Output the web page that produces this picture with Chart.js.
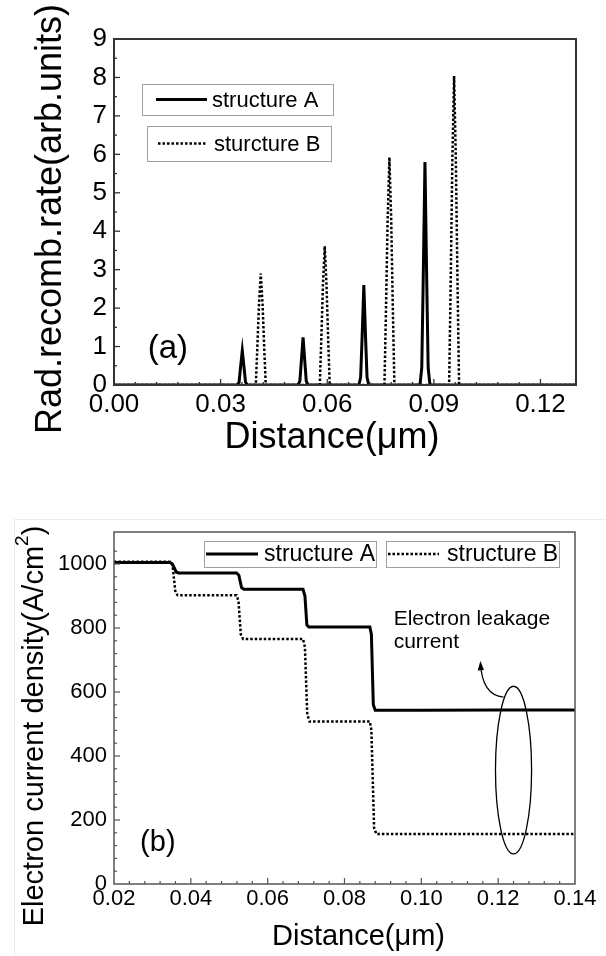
<!DOCTYPE html>
<html>
<head>
<meta charset="utf-8">
<script src="https://cdn.jsdelivr.net/npm/chart.js@4.4.1/dist/chart.umd.min.js"></script>
<style>
  body { margin: 0; background: #fff; width: 606px; height: 956px; position: relative; overflow: hidden; }
  #rateChart { position: absolute; left: 0; top: 0; }
  #currentChart { position: absolute; left: 0; top: 505px; }
  .panel { position: absolute; left: 14px; top: 519px; right: 0; bottom: 0;
           border-top: 1px solid #ececec; border-left: 1px solid #ececec; }
</style>
</head>
<body>
<div class="panel"></div>
<canvas id="rateChart" width="606" height="475"></canvas>
<canvas id="currentChart" width="606" height="451"></canvas>
<script>
const FONT = "'Liberation Sans', Arial, Helvetica, sans-serif";

// (a) radiative recombination rate
const rateDistA = [0, 0.0347, 0.0352, 0.0356, 0.0361, 0.0366, 0.0370, 0.0375,
  0.0518, 0.0523, 0.0527, 0.0532, 0.0537, 0.0541, 0.0546,
  0.0689, 0.0694, 0.0698, 0.0703, 0.0708, 0.0712, 0.0717,
  0.0861, 0.0866, 0.0870, 0.0875, 0.0880, 0.0884, 0.0889, 0.13];
const rateA = [0, 0, 0.08, 0.45, 0.89, 0.45, 0.08, 0,
  0, 0.10, 0.60, 1.24, 0.60, 0.10, 0,
  0, 0.20, 1.20, 2.60, 1.20, 0.20, 0,
  0, 0.45, 2.70, 5.80, 2.70, 0.45, 0, 0];
const rateDistB = [0, 0.0399, 0.0403, 0.0408, 0.0413, 0.0418, 0.0423, 0.0427,
  0.0579, 0.0583, 0.0588, 0.0593, 0.0598, 0.0603, 0.0607,
  0.0761, 0.0765, 0.0770, 0.0775, 0.0780, 0.0785, 0.0789,
  0.0943, 0.0947, 0.0952, 0.0957, 0.0962, 0.0967, 0.0971, 0.13];
const rateB = [0, 0, 0.9, 2.1, 2.90, 2.1, 0.9, 0,
  0, 1.1, 2.6, 3.61, 2.6, 1.1, 0,
  0, 1.8, 4.3, 5.92, 4.3, 1.8, 0,
  0, 2.4, 5.8, 8.04, 5.8, 2.4, 0, 0];
const rateXTicks = [0, 0.03, 0.06, 0.09, 0.12];
const rateYTicks = [0, 1, 2, 3, 4, 5, 6, 7, 8, 9];

// (b) electron current density
const currentDistA = [0.02, 0.0346, 0.0352, 0.0362, 0.0368, 0.0519, 0.0525, 0.0532, 0.0538,
  0.0692, 0.0697, 0.0702, 0.0707, 0.0866, 0.0870, 0.0875, 0.0880, 0.10, 0.12, 0.14];
const currentA = [1005, 1005, 1000, 975, 972, 972, 965, 926, 921,
  921, 900, 810, 803, 803, 780, 560, 543, 543, 544, 544];
const currentDistB = [0.02, 0.0349, 0.0353, 0.0360, 0.0366, 0.0519, 0.0524, 0.0530, 0.0536,
  0.0692, 0.0697, 0.0703, 0.0709, 0.0866, 0.0870, 0.0877, 0.0883, 0.14];
const currentB = [1007, 1007, 990, 910, 902, 902, 885, 780, 766,
  766, 740, 530, 508, 508, 480, 175, 156, 156];
const currentXTicks = [0.02, 0.04, 0.06, 0.08, 0.10, 0.12, 0.14];
const currentYTicks = [0, 200, 400, 600, 800, 1000];

const pts = (xs, ys) => xs.map((x, i) => ({ x: x, y: ys[i] }));
const isMajor = (list, v) => list.some(t => Math.abs(t - v) < 1e-9);

// box around the plot + inward ticks (long on labelled ticks)
const frame = {
  id: 'frame',
  afterDatasetsDraw(chart, args, opts) {
    const { ctx, chartArea: a, scales } = chart;
    ctx.save();
    ctx.strokeStyle = opts.color;
    ctx.lineWidth = opts.tickWidth;
    scales.x.ticks.forEach(t => {
      const px = scales.x.getPixelForValue(t.value);
      if (px <= a.left + 1 || px >= a.right - 1) return;
      const len = t.label !== '' ? opts.major : opts.minor;
      ctx.beginPath(); ctx.moveTo(px, a.bottom); ctx.lineTo(px, a.bottom - len); ctx.stroke();
    });
    scales.y.ticks.forEach(t => {
      const py = scales.y.getPixelForValue(t.value);
      if (py <= a.top + 1 || py >= a.bottom - 1) return;
      const len = t.label !== '' ? opts.major : opts.minor;
      ctx.beginPath(); ctx.moveTo(a.left, py); ctx.lineTo(a.left + len, py); ctx.stroke();
    });
    ctx.lineWidth = opts.width;
    ctx.strokeRect(a.left, a.top, a.right - a.left, a.bottom - a.top);
    ctx.restore();
  }
};

// axis titles; the y one may carry a superscript part
const axisTitles = {
  id: 'axisTitles',
  afterDraw(chart, args, opts) {
    const { ctx, chartArea: a } = chart;
    ctx.save();
    ctx.fillStyle = '#000';
    ctx.textBaseline = 'middle';
    ctx.font = opts.x.size + 'px ' + FONT;
    ctx.textAlign = 'center';
    ctx.fillText(opts.x.text, (a.left + a.right) / 2 + opts.x.dx, a.bottom + opts.x.dy);

    const yt = opts.y;
    const big = yt.size + 'px ' + FONT;
    const small = Math.round(yt.size * 0.66) + 'px ' + FONT;
    let total = 0;
    yt.parts.forEach(p => { ctx.font = p.sup ? small : big; total += ctx.measureText(p.text).width; });
    ctx.translate(yt.x, (a.top + a.bottom) / 2 + yt.dy);
    ctx.rotate(-Math.PI / 2);
    ctx.textAlign = 'left';
    let pos = -total / 2;
    yt.parts.forEach(p => {
      ctx.font = p.sup ? small : big;
      ctx.fillText(p.text, pos, p.sup ? -yt.size * 0.42 : 0);
      pos += ctx.measureText(p.text).width;
    });
    ctx.restore();
  }
};

// separate framed legend entries, as in the figure
const boxLegend = {
  id: 'boxLegend',
  afterDraw(chart, args, opts) {
    const { ctx, chartArea: a } = chart;
    ctx.save();
    ctx.font = opts.fontSize + 'px ' + FONT;
    ctx.textBaseline = 'middle';
    opts.boxes.forEach((b, i) => {
      const ds = chart.data.datasets[i];
      const x = a.left + b.dx, y = a.top + b.dy;
      ctx.strokeStyle = '#a0a0a0';
      ctx.lineWidth = 1;
      ctx.strokeRect(x + 0.5, y + 0.5, b.w, b.h);
      const my = y + b.h / 2;
      ctx.strokeStyle = ds.borderColor;
      ctx.lineWidth = ds.borderWidth;
      ctx.setLineDash(ds.borderDash || []);
      ctx.beginPath(); ctx.moveTo(x + b.lineStart, my); ctx.lineTo(x + b.lineEnd, my); ctx.stroke();
      ctx.setLineDash([]);
      ctx.fillStyle = '#000';
      ctx.fillText(ds.label, x + b.textX, my + 1);
    });
    ctx.restore();
  }
};

// panel letters, leakage ellipse, arrow and note
const notes = {
  id: 'notes',
  afterDatasetsDraw(chart, args, opts) {
    const { ctx, scales: { x, y } } = chart;
    ctx.save();
    ctx.fillStyle = '#000';
    ctx.strokeStyle = '#000';
    (opts.texts || []).forEach(t => {
      ctx.font = t.size + 'px ' + FONT;
      ctx.textBaseline = t.baseline || 'middle';
      ctx.textAlign = 'left';
      ctx.fillText(t.text, x.getPixelForValue(t.x), y.getPixelForValue(t.y));
    });
    if (opts.ellipse) {
      const e = opts.ellipse;
      const cx = x.getPixelForValue(e.x), cy = y.getPixelForValue(e.y);
      const rx = Math.abs(x.getPixelForValue(e.x + e.halfW) - cx);
      const ry = Math.abs(y.getPixelForValue(e.y + e.halfH) - cy);
      ctx.lineWidth = 1.3;
      ctx.beginPath(); ctx.ellipse(cx, cy, rx, ry, 0, 0, Math.PI * 2); ctx.stroke();
    }
    if (opts.arrow) {
      const r = opts.arrow;
      const p0 = [x.getPixelForValue(r.from[0]), y.getPixelForValue(r.from[1])];
      const c = [x.getPixelForValue(r.via[0]), y.getPixelForValue(r.via[1])];
      const p1 = [x.getPixelForValue(r.to[0]), y.getPixelForValue(r.to[1])];
      ctx.lineWidth = 1.2;
      ctx.beginPath(); ctx.moveTo(p0[0], p0[1]); ctx.quadraticCurveTo(c[0], c[1], p1[0], p1[1]); ctx.stroke();
      const ang = Math.atan2(p1[1] - c[1], p1[0] - c[0]);
      ctx.beginPath();
      ctx.moveTo(p1[0] + Math.cos(ang) * 2, p1[1] + Math.sin(ang) * 2);
      ctx.lineTo(p1[0] - Math.cos(ang - 0.4) * 8, p1[1] - Math.sin(ang - 0.4) * 8);
      ctx.lineTo(p1[0] - Math.cos(ang + 0.4) * 8, p1[1] - Math.sin(ang + 0.4) * 8);
      ctx.closePath(); ctx.fill();
    }
    ctx.restore();
  }
};

function axis(min, max, step, major, digits, size, pad, fit) {
  return {
    type: 'linear', min: min, max: max,
    grid: { display: false, drawTicks: false },
    border: { display: false },
    ticks: {
      stepSize: step, autoSkip: false, maxRotation: 0, padding: pad, color: '#000',
      font: { family: FONT, size: size },
      callback: v => isMajor(major, v) ? v.toFixed(digits) : ''
    },
    afterFit: fit
  };
}

Chart.defaults.animation = false;

new Chart(document.getElementById('rateChart'), {
  type: 'line',
  data: {
    datasets: [
      { label: 'structure A', data: pts(rateDistA, rateA), borderColor: '#000',
        borderWidth: 3, pointRadius: 0, tension: 0 },
      { label: 'sturcture B', data: pts(rateDistB, rateB), borderColor: '#000',
        borderWidth: 2.5, borderDash: [2.5, 2], pointRadius: 0, tension: 0 }
    ]
  },
  options: {
    responsive: false,
    devicePixelRatio: 1,
    layout: { padding: { top: 39, right: 30, left: 0, bottom: 0 } },
    scales: {
      x: axis(0, 0.13, 0.006, rateXTicks, 2, 26, 4, s => { s.height = 90; }),
      y: axis(0, 9, 0.5, rateYTicks, 0, 26, 7, s => { s.width = 114; })
    },
    plugins: {
      legend: { display: false },
      tooltip: { enabled: false },
      frame: { color: '#333', width: 2, tickWidth: 1.3, major: 6, minor: 3 },
      axisTitles: {
        x: { text: 'Distance(\u03bcm)', size: 36, dx: -13, dy: 53 },
        y: { parts: [{ text: 'Rad.recomb.rate(arb.units)' }], size: 36, x: 51, dy: 7 }
      },
      boxLegend: {
        fontSize: 22,
        boxes: [
          { dx: 28, dy: 45, w: 191, h: 31, lineStart: 14, lineEnd: 65, textX: 70 },
          { dx: 33, dy: 87, w: 184, h: 35, lineStart: 11, lineEnd: 60, textX: 67 }
        ]
      },
      notes: {
        texts: [{ text: '(a)', x: 0.0095, y: 0.95, size: 33 }]
      }
    }
  },
  plugins: [frame, axisTitles, boxLegend, notes]
});

new Chart(document.getElementById('currentChart'), {
  type: 'line',
  data: {
    datasets: [
      { label: 'structure A', data: pts(currentDistA, currentA), borderColor: '#000',
        borderWidth: 3, pointRadius: 0, tension: 0 },
      { label: 'structure B', data: pts(currentDistB, currentB), borderColor: '#000',
        borderWidth: 2.5, borderDash: [2.5, 2], pointRadius: 0, tension: 0 }
    ]
  },
  options: {
    responsive: false,
    devicePixelRatio: 1,
    layout: { padding: { top: 27, right: 31, left: 0, bottom: 0 } },
    scales: {
      x: axis(0.02, 0.14, 0.004, currentXTicks, 2, 22, 2, s => { s.height = 72; }),
      y: axis(0, 1100, 40, currentYTicks, 0, 22, 7, s => { s.width = 114; })
    },
    plugins: {
      legend: { display: false },
      tooltip: { enabled: false },
      frame: { color: '#555', width: 1.5, tickWidth: 1.2, major: 6, minor: 3 },
      axisTitles: {
        x: { text: 'Distance(\u03bcm)', size: 29, dx: 14, dy: 53 },
        y: { parts: [{ text: 'Electron current density(A/cm' }, { text: '2', sup: true }, { text: ')' }],
             size: 29, x: 35, dy: 18 }
      },
      boxLegend: {
        fontSize: 23,
        boxes: [
          { dx: 90, dy: 9, w: 172, h: 26, lineStart: 2, lineEnd: 54, textX: 60 },
          { dx: 272, dy: 9, w: 173, h: 26, lineStart: 2, lineEnd: 53, textX: 61 }
        ]
      },
      notes: {
        texts: [
          { text: '(b)', x: 0.0268, y: 128, size: 29 },
          { text: 'Electron leakage', x: 0.0928, y: 809, size: 21, baseline: 'alphabetic' },
          { text: 'current', x: 0.0928, y: 737, size: 21, baseline: 'alphabetic' }
        ],
        ellipse: { x: 0.124, y: 356, halfW: 0.0047, halfH: 262 },
        arrow: { from: [0.1214, 584], via: [0.1158, 590], to: [0.1154, 691] }
      }
    }
  },
  plugins: [frame, axisTitles, boxLegend, notes]
});
</script>
</body>
</html>
